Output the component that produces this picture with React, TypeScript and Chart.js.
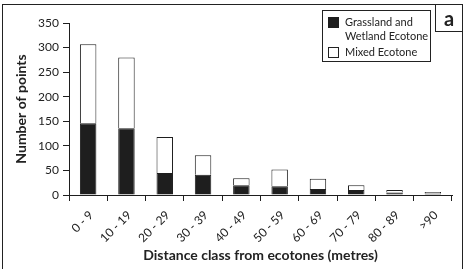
import React, { useEffect, useRef } from "react";
import { Chart, registerables } from "chart.js";

Chart.register(...registerables);

const categories = ["0 - 9", "10 - 19", "20 - 29", "30 - 39", "40 - 49", "50 - 59", "60 - 69", "70 - 79", "80 - 89", ">90"];
const grasslandWetland = [146, 136, 45, 41, 20, 18, 12, 10, 5, 3];
const mixed = [161, 144, 73, 40, 14, 34, 21, 10, 5, 3];
const yTicks = [0, 50, 100, 150, 200, 250, 300, 350];
const seriesNames = ["Grassland and Wetland Ecotone", "Mixed Ecotone"];

const FONT = "Lato, 'Open Sans', sans-serif";
const INK = "#1e1e1e";

export default function App() {
  const ref = useRef<HTMLCanvasElement | null>(null);

  useEffect(() => {
    if (!ref.current) return;
    const chart = new Chart(ref.current, {
      type: "bar",
      data: {
        labels: categories,
        datasets: [
          {
            label: seriesNames[0],
            data: grasslandWetland,
            backgroundColor: INK,
            borderColor: INK,
            borderWidth: 1,
            barPercentage: 0.43,
            categoryPercentage: 1,
          },
          {
            label: seriesNames[1],
            data: mixed,
            backgroundColor: "#ffffff",
            borderColor: INK,
            borderWidth: 1,
            barPercentage: 0.43,
            categoryPercentage: 1,
          },
        ],
      },
      options: {
        animation: false,
        responsive: false,
        devicePixelRatio: 1,
        layout: { padding: { top: 23, right: 21, left: 0, bottom: 0 } },
        plugins: { legend: { display: false }, tooltip: { enabled: false } },
        scales: {
          x: {
            stacked: true,
            afterFit: (s: any) => {
              s.height = 74;
            },
            grid: {
              display: true,
              drawOnChartArea: false,
              drawTicks: true,
              tickLength: 6,
              color: INK,
              offset: true,
            },
            border: { display: true, color: INK, width: 1 },
            ticks: {
              color: "#222",
              font: { family: FONT, size: 12 },
              maxRotation: 45,
              minRotation: 45,
              padding: 7,
              labelOffset: 3,
              autoSkip: false,
            },
            title: {
              display: true,
              text: "Distance class from ecotones (metres)",
              color: "#222",
              font: { family: FONT, size: 14, weight: "bold" },
              padding: { top: 0, bottom: 5 },
            },
          },
          y: {
            stacked: true,
            min: 0,
            max: 350,
            afterFit: (s: any) => {
              s.width = 69;
            },
            afterBuildTicks: (s: any) => {
              s.ticks = yTicks.map((v) => ({ value: v }));
            },
            grid: {
              display: true,
              drawOnChartArea: false,
              drawTicks: true,
              tickLength: 6,
              color: INK,
            },
            border: { display: true, color: INK, width: 1 },
            ticks: {
              color: "#222",
              font: { family: FONT, size: 12 },
              padding: 4,
            },
            title: {
              display: true,
              text: "Number of points",
              color: "#222",
              font: { family: FONT, size: 14, weight: "bold" },
              padding: { top: 13, bottom: 0 },
            },
          },
        },
      },
    });
    return () => chart.destroy();
  }, []);

  return (
    <div style={{ position: "absolute", left: 0, top: 0, width: 473, height: 269, overflow: "hidden", background: "#fff", fontFamily: FONT }}>
      <canvas ref={ref} width={473} height={269} style={{ position: "absolute", left: 0, top: 0, width: 473, height: 269 }} />
      <div style={{ position: "absolute", left: 2, top: 4, width: 459, height: 300, border: "1px solid #222", pointerEvents: "none" }} />
      <div style={{ position: "absolute", left: 435, top: 4, width: 26, height: 27, borderLeft: "1px solid #222", borderBottom: "1px solid #222", display: "flex", alignItems: "center", justifyContent: "center", fontWeight: "bold", fontSize: 20, color: "#222", lineHeight: 1 }}>
        a
      </div>
      <div style={{ position: "absolute", left: 322, top: 10, width: 107, height: 50, border: "1px solid #222", background: "#fff", color: "#222", fontSize: 11 }}>
        <div style={{ position: "absolute", left: 5, top: 6, width: 11, height: 11, background: INK }} />
        <div style={{ position: "absolute", left: 22, top: 4, lineHeight: "14px", whiteSpace: "nowrap" }}>
          Grassland and<br />Wetland Ecotone
        </div>
        <div style={{ position: "absolute", left: 5, top: 36, width: 9, height: 9, border: "1px solid #222", background: "#fff" }} />
        <div style={{ position: "absolute", left: 22, top: 34, lineHeight: "14px", whiteSpace: "nowrap" }}>
          {seriesNames[1]}
        </div>
      </div>
    </div>
  );
}
